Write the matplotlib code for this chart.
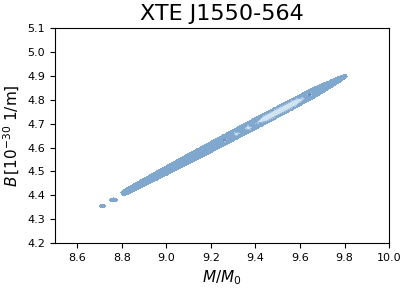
import numpy as np
import matplotlib
matplotlib.use("Agg")
import matplotlib.pyplot as plt

# Ridge of the confidence band (data coords)
ridge_start = (8.80, 4.405)
ridge_end = (9.81, 4.902)
# half-width profile of outer region along ridge (fraction, half-width in B units)
prof_u = [0.0, 0.03, 0.15, 0.35, 0.6, 0.85, 0.97, 1.0]
prof_w = [0.010, 0.015, 0.019, 0.023, 0.025, 0.023, 0.013, 0.006]
# inner (lighter) region along ridge
inner_u = [0.595, 0.815]
inner_w = 0.014
# small isolated blobs: x, y, rx, ry
blob_x = [8.712, 8.763]
blob_y = [4.355, 4.380]
blob_rx = [0.014, 0.018]
blob_ry = [0.006, 0.008]
# light spots
spot_x = [9.316, 9.368]
spot_y = [4.657, 4.683]
spot_r = [0.010, 0.012]
# darker spots
dark_x = [9.262, 9.643]
dark_y = [4.631, 4.822]
dark_r = [0.006, 0.007]

fill_colors = ["#80a7cd", "#d0e3f1", "#6c94c2"]
edge_color = "#6c94c2"

fig = plt.figure(figsize=(4.07, 2.90), dpi=100)
ax = fig.add_axes([0.135, 0.162, 0.821, 0.741])

xg = np.linspace(8.5, 10.0, 900)
yg = np.linspace(4.2, 5.1, 600)
X, Y = np.meshgrid(xg, yg)

x0, y0 = ridge_start
x1, y1 = ridge_end
dx, dy = x1 - x0, y1 - y0
L2 = dx * dx + dy * dy
u = ((X - x0) * dx + (Y - y0) * dy) / L2
yline = y0 + (X - x0) * dy / dx
v = np.abs(Y - yline)
w = np.interp(u, prof_u, prof_w)
Z = np.zeros_like(X)
Z[(u >= 0) & (u <= 1) & (v <= w)] = 1
for bx, by, rx, ry in zip(blob_x, blob_y, blob_rx, blob_ry):
    Z[((X - bx) / rx) ** 2 + ((Y - by) / ry) ** 2 <= 1] = 1
inner = (u >= inner_u[0]) & (u <= inner_u[1])
wi = inner_w * np.clip(np.minimum(u - inner_u[0], inner_u[1] - u) / 0.04, 0, 1)
Z[inner & (v <= wi)] = 2
for sx, sy, r in zip(spot_x, spot_y, spot_r):
    Z[((X - sx) / r) ** 2 + ((Y - sy) / (r * 0.6)) ** 2 <= 1] = 2
for sx, sy, r in zip(dark_x, dark_y, dark_r):
    Z[((X - sx) / r) ** 2 + ((Y - sy) / (r * 0.7)) ** 2 <= 1] = 3

ax.contourf(X, Y, Z, levels=[0.5, 1.5, 2.5, 3.5], colors=fill_colors)
ax.contour(X, Y, Z, levels=[1.5], colors=[edge_color], linewidths=0.4)

ax.set_xlim(8.5, 10.0)
ax.set_ylim(4.2, 5.1)
ax.set_xticks(np.round(np.arange(8.6, 10.01, 0.2), 1))
ax.set_yticks(np.round(np.arange(4.2, 5.101, 0.1), 1))
ax.tick_params(labelsize=8)
ax.set_title("XTE J1550-564", fontsize=16)
ax.set_xlabel(r"$M/M_0$", fontsize=11)
ax.set_ylabel(r"$B\,[10^{-30}$ 1/m]", fontsize=11)

fig.savefig("out.png", dpi=100)
